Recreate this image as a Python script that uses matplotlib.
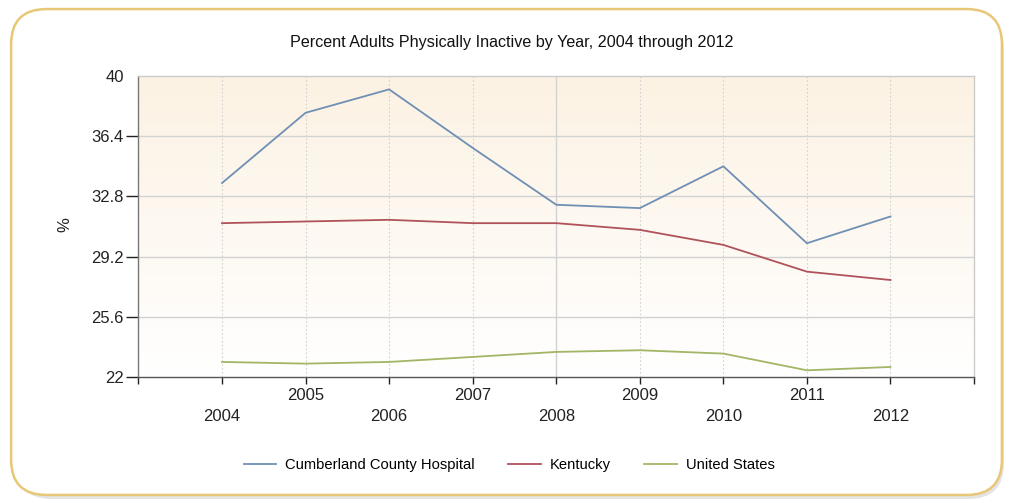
import numpy as np
import matplotlib
matplotlib.use('Agg')
import matplotlib.pyplot as plt
from matplotlib.patches import FancyBboxPatch
from matplotlib.colors import LinearSegmentedColormap

plt.rcParams['font.family'] = ['Liberation Sans', 'DejaVu Sans']

# ── Data ──────────────────────────────────────────────────────
years = [2004, 2005, 2006, 2007, 2008, 2009, 2010, 2011, 2012]
cumberland = [33.6, 37.8, 39.2, 35.7, 32.3, 32.1, 34.6, 30.0, 31.6]
kentucky   = [31.2, 31.3, 31.4, 31.2, 31.2, 30.8, 29.9, 28.3, 27.8]
united_states = [22.9, 22.8, 22.9, 23.2, 23.5, 23.6, 23.4, 22.4, 22.6]

y_ticks = [22, 25.6, 29.2, 32.8, 36.4, 40]
series = [
    ('Cumberland County Hospital', cumberland,    '#6F8FB4'),
    ('Kentucky',                   kentucky,      '#B0525B'),
    ('United States',              united_states, '#A3B566'),
]

# ── Figure ────────────────────────────────────────────────────
fig = plt.figure(figsize=(10.1, 5.03), dpi=100)
fig.patch.set_facecolor('white')

# soft shadow + rounded frame
shadow = FancyBboxPatch((0.016, 0.008), 0.978, 0.965,
                        boxstyle='round,pad=0,rounding_size=0.035',
                        transform=fig.transFigure, facecolor='#E4E4E4',
                        edgecolor='none', zorder=0, mutation_aspect=2.0)
fig.patches.append(shadow)
frame = FancyBboxPatch((0.011, 0.016), 0.981, 0.966,
                       boxstyle='round,pad=0,rounding_size=0.035',
                       transform=fig.transFigure, facecolor='white',
                       edgecolor='#E8C877', linewidth=1.8, zorder=1,
                       mutation_aspect=2.0)
fig.patches.append(frame)

ax = fig.add_axes([0.1371, 0.2505, 0.8273, 0.5984])
ax.set_zorder(2)
ax.patch.set_alpha(0)

ax.set_xlim(2003, 2013)
ax.set_ylim(22, 40)

# background gradient, peach at top fading to white
grad = LinearSegmentedColormap.from_list('bg', ['#FFFFFF', '#FCF2E3'])
ax.imshow(np.linspace(0, 1, 256).reshape(-1, 1), cmap=grad, aspect='auto',
          extent=[2003, 2013, 22, 40], origin='lower', zorder=0)

# grid
for yv in y_ticks[1:-1]:
    ax.axhline(yv, color='#D2D2D2', linewidth=1, zorder=1)
for xv in range(2004, 2013):
    if xv == 2008:
        ax.axvline(xv, color='#D2D2D2', linewidth=1, zorder=1)
    else:
        ax.axvline(xv, color='#D2D2D2', linewidth=0.8, linestyle=(0, (1.5, 2)), zorder=1)

for name, vals, col in series:
    ax.plot(years, vals, color=col, linewidth=1.3, label=name, zorder=3)

# axes styling
ax.set_yticks(y_ticks)
ax.set_yticklabels(['22', '25.6', '29.2', '32.8', '36.4', '40'])
ax.yaxis.get_major_ticks()[-1].tick1line.set_visible(False)
x_all = list(range(2003, 2014))
ax.set_xticks(x_all)
xlabels = []
for xv in x_all:
    if xv in years:
        xlabels.append(str(xv) if xv % 2 else '\n' + str(xv))
    else:
        xlabels.append('')
ax.set_xticklabels(xlabels, linespacing=1.5)
ax.tick_params(axis='both', labelsize=12, colors='#222222', width=1, direction='out')
ax.tick_params(axis='x', length=5, pad=3)
ax.tick_params(axis='y', length=9, pad=1.5)

ax.spines['left'].set_color('#777777')
ax.spines['bottom'].set_color('#555555')
ax.spines['top'].set_color('#CCCCCC')
ax.spines['right'].set_color('#CCCCCC')
for s in ax.spines.values():
    s.set_linewidth(1)

ax.set_ylabel('%', fontsize=12, color='#222222')
ax.yaxis.set_label_coords(-0.079, 0.505)

fig.text(0.507, 0.916, 'Percent Adults Physically Inactive by Year, 2004 through 2012',
         ha='center', va='center', fontsize=11.6, color='#111111')

fig.legend(loc='center', bbox_to_anchor=(0.504, 0.076), ncol=3, frameon=False,
           fontsize=10.6, handlelength=2.2, columnspacing=2.3, handletextpad=0.6)

fig.savefig('out.png', dpi=100)
